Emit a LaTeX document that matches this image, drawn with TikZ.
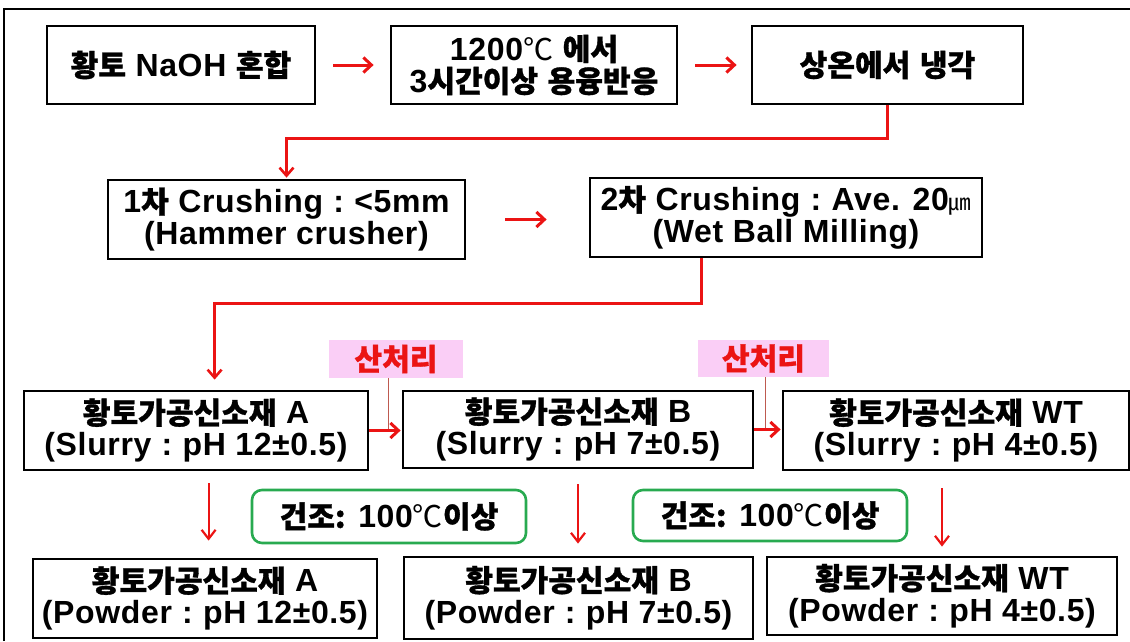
\documentclass[tikz,border=0pt]{standalone}
\usepackage{fontspec}
\setmainfont{Liberation Sans}[LetterSpace=2]
\newfontfamily\kr{Noto Sans CJK KR}[Scale=0.94, FakeBold=1]
\newfontfamily\krlight{Noto Sans CJK KR}[Scale=0.94]
\usetikzlibrary{arrows.meta,calc}
\newcommand\K[1]{{\kr #1}}
\newcommand\KL[1]{{\krlight\mdseries #1}}
\newcommand\Col{\hspace{0.32em}:\hspace{0.32em}}
\newcommand\boxfont{\fontsize{32}{32}\selectfont\bfseries}
\definecolor{arrred}{RGB}{235,20,20}
\definecolor{acidline}{RGB}{190,90,80}
\definecolor{pinkfill}{RGB}{250,206,246}
\definecolor{dryg}{RGB}{40,170,80}
\tikzset{
  box/.style={draw, line width=2.8pt, inner sep=0pt, align=center, font=\boxfont},
  drybox/.style={draw=dryg, line width=2.6pt, rounded corners=10pt, inner sep=0pt, align=center, font=\boxfont},
  acidbox/.style={fill=pinkfill, inner sep=0pt, text=arrred, font=\boxfont},
  arr/.style={draw=arrred, line width=3pt, -{Straight Barb[length=8pt,width=15pt]}},
  conn/.style={draw=arrred, line width=2.6pt, -{Straight Barb[length=8pt,width=14pt]}},
  darr/.style={draw=arrred, line width=2.2pt, -{Straight Barb[length=9pt,width=14pt]}},
  acid/.style={draw=acidline, line width=0.9pt}
}
\begin{document}
\begin{tikzpicture}[x=1pt,y=-1pt]
\useasboundingbox (0,0) rectangle (1130,641);
\draw[line width=2pt] (4,641) -- (4,9) -- (1130,9);
% row 1
\node[box, minimum width=268pt, minimum height=78pt] (b1) at (181,65) {\K{황토} NaOH \K{혼합}};
\node[box, minimum width=286pt, minimum height=78pt] (b2) at (534,65) {1200\KL{℃} \K{에서}\\3\K{시간이상} \K{용융반응}};
\node[box, minimum width=271pt, minimum height=78pt] (b3) at (887.5,65) {\K{상온에서} \K{냉각}};
% row 2
\node[box, minimum width=357pt, minimum height=79pt] (b4) at (286.5,219.5) {1\K{차} Crushing\Col<5mm\\(Hammer crusher)};
\node[box, minimum width=392pt, minimum height=79pt] (b5) at (786,217.5) {2\K{차} Crushing\Col Ave. 20{\fontsize{24}{24}\selectfont\KL{㎛}}\\(Wet Ball Milling)};
% acid labels
\node[acidbox, minimum width=134pt, minimum height=38pt] (k1) at (396,359) {\K{산처리}};
\node[acidbox, minimum width=131pt, minimum height=37pt] (k2) at (763.5,358.5) {\K{산처리}};
% row 3
\node[box, minimum width=344pt, minimum height=79pt] (s1) at (196,430.5) {\K{황토가공신소재} A\\(Slurry\Col pH 12±0.5)};
\node[box, minimum width=350pt, minimum height=77pt] (s2) at (578,429.5) {\K{황토가공신소재} B\\(Slurry\Col pH 7±0.5)};
\node[box, minimum width=346pt, minimum height=79pt] (s3) at (956,430.5) {\K{황토가공신소재} WT\\(Slurry\Col pH 4±0.5)};
% drying labels
\node[drybox, minimum width=274pt, minimum height=53pt] (g1) at (389,516.5) {\K{건조:} 100\KL{℃}\K{이상}};
\node[drybox, minimum width=274pt, minimum height=51pt] (g2) at (770,515.5) {\K{건조:} 100\KL{℃}\K{이상}};
% row 4
\node[box, minimum width=344pt, minimum height=79pt] (p1) at (205,598.5) {\K{황토가공신소재} A\\(Powder\Col pH 12±0.5)};
\node[box, minimum width=349pt, minimum height=82pt] (p2) at (578.5,598) {\K{황토가공신소재} B\\(Powder\Col pH 7±0.5)};
\node[box, minimum width=350pt, minimum height=78pt] (p3) at (942,596) {\K{황토가공신소재} WT\\(Powder\Col pH 4±0.5)};
% connectors
\draw[arr, shorten <=17pt, shorten >=16pt] (b1) -- (b2);
\draw[arr, shorten <=17pt, shorten >=14pt] (b2) -- (b3);
\draw[conn, shorten >=1pt] (b3.south) -- ++(0,33) -| (b4.north);
\draw[arr, shorten <=39pt, shorten >=42pt] (b4.east) -- (b4.east -| b5.west);
\coordinate (c2s) at ($(b5.south west)+(113,0)$);
\coordinate (c2e) at ($(s1.north west)+(192,0)$);
\draw[conn, shorten >=10pt] (c2s) -- ++(0,45) -| (c2e);
\coordinate (t1) at ($(k1.south)+(-8,0)$);
\coordinate (t2) at ($(k2.south)+(1.5,0)$);
\draw[acid] (t1) -- (t1 |- s1.east);
\draw[acid] (t2) -- (t2 |- s2.east);
\draw[arr, shorten >=1pt] (s1.east) -- (s1.east -| s2.west);
\draw[arr, shorten >=1pt] (s2.east) -- (s2.east -| s3.west);
\coordinate (dA) at ($(s1.south west)+(186,0)$);
\draw[darr, shorten <=12pt, shorten >=17pt] (dA) -- (dA |- p1.north);
\draw[darr, shorten <=15pt, shorten >=12pt] (s2.south) -- (s2.south |- p2.north);
\draw[darr, shorten <=17pt, shorten >=9pt] (p3.north |- s3.south) -- (p3.north);
\end{tikzpicture}
\end{document}
